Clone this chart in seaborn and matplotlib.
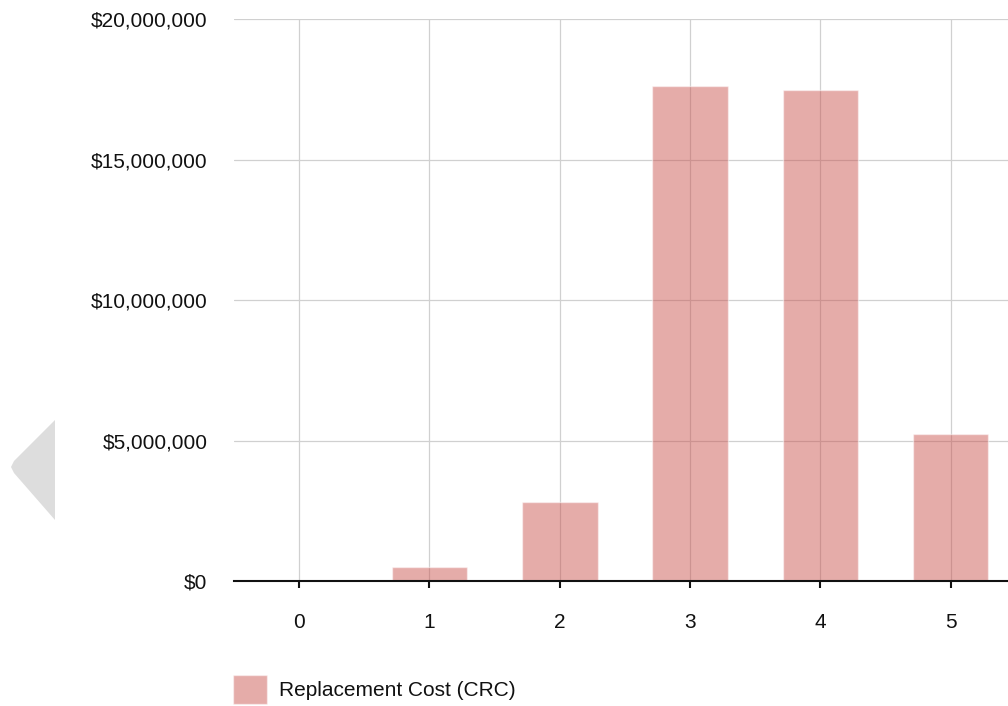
import matplotlib
matplotlib.use("Agg")
import matplotlib.pyplot as plt
import matplotlib.ticker as mticker
from matplotlib.patches import Polygon
import seaborn as sns
import pandas as pd

categories = ["0", "1", "2", "3", "4", "5"]
values = [0, 500000, 2800000, 17620000, 17470000, 5230000]
series_name = "Replacement Cost (CRC)"
y_ticks = [0, 5000000, 10000000, 15000000, 20000000]

sns.set_theme(style="white")
plt.rcParams["font.family"] = ["Liberation Sans", "DejaVu Sans"]

W, H = 1008, 706
fig = plt.figure(figsize=(W / 100, H / 100), dpi=100)
ax = fig.add_axes([234 / W, 125 / H, (W - 234) / W, (581 - 19) / H])

df = pd.DataFrame({"cat": categories, "val": values})
sns.barplot(data=df, x="cat", y="val", color="#c9504a", alpha=0.47,
            saturation=1, width=0.58, ax=ax, label=series_name, zorder=2)

ax.set_xlim(-0.5, 5.44)
ax.set_ylim(0, 20000000)
ax.set_yticks(y_ticks)
ax.yaxis.set_major_formatter(mticker.FuncFormatter(lambda v, p: "${:,.0f}".format(v)))
ax.set_xlabel("")
ax.set_ylabel("")

ax.grid(True, color="#d0d0d0", linewidth=0.9, zorder=0)
ax.set_axisbelow(True)
for s in ["left", "right", "top"]:
    ax.spines[s].set_visible(False)
ax.spines["bottom"].set_color("#111111")
ax.spines["bottom"].set_linewidth(1.5)
ax.spines["bottom"].set_zorder(3)

ax.tick_params(axis="x", which="both", bottom=True, length=5, width=1.5,
               color="#111111", labelsize=15, labelcolor="#111111", pad=18)
ax.tick_params(axis="y", which="both", left=False, labelsize=15,
               labelcolor="#111111", pad=13)

# legend
handles, labels = ax.get_legend_handles_labels()
if ax.get_legend() is not None:
    ax.get_legend().remove()
fig.legend(handles, labels, loc="upper left",
           bbox_to_anchor=(233 / W, 1 - 675 / H), frameon=False,
           borderpad=0, borderaxespad=0, handlelength=1.63, handleheight=1.75,
           handletextpad=0.58, fontsize=15, labelcolor="#111111")

# navigation arrow decoration on the left
tri = Polygon([[55 / W, 1 - 420 / H], [55 / W, 1 - 520 / H],
               [14 / W, 1 - 473 / H], [11 / W, 1 - 467 / H], [14 / W, 1 - 461 / H]],
              closed=True, transform=fig.transFigure, facecolor="#dddddd",
              edgecolor="none")
fig.patches.append(tri)

fig.savefig("out.png", dpi=100)
